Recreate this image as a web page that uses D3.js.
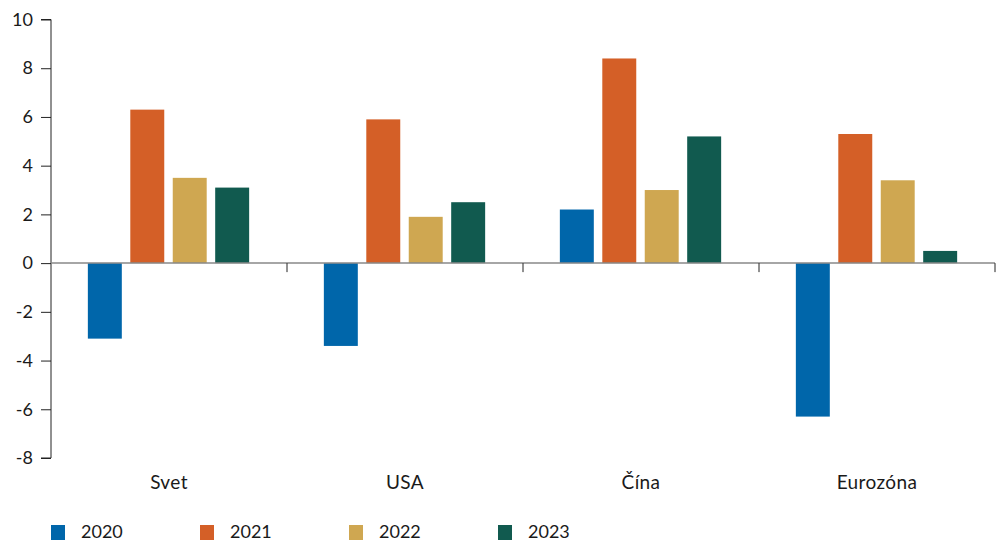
<!DOCTYPE html>
<html><head><meta charset="utf-8">
<script src="https://cdn.jsdelivr.net/npm/d3@7"></script>
<style>body{margin:0;background:#fff;} svg{display:block;font-family:Lato,"Open Sans",sans-serif;}</style>
</head><body>
<svg id="c" width="996" height="542"></svg>
<script>
const categories = ["Svet", "USA", "Čína", "Eurozóna"];
const years = ["2020", "2021", "2022", "2023"];
const v2020 = [-3.1, -3.4, 2.2, -6.3];
const v2021 = [6.3, 5.9, 8.4, 5.3];
const v2022 = [3.5, 1.9, 3.0, 3.4];
const v2023 = [3.1, 2.5, 5.2, 0.5];
const yTicks = [-8, -6, -4, -2, 0, 2, 4, 6, 8, 10];
const colors = ["#0066aa", "#d45f27", "#cfa751", "#115a4f"];

(function () {
const series = [v2020, v2021, v2022, v2023];
const svg = d3.select("#c");
const mLeft = 51, mRight = 995, mTop = 19.5, mBottom = 458;

const y = d3.scaleLinear().domain([-8, 10]).range([mBottom, mTop]);
const x0 = d3.scaleBand().domain(categories).range([mLeft, mRight]).padding(0);
const x1 = d3.scaleBand().domain(years).range([0, x0.bandwidth()]).paddingInner(0.2).paddingOuter(0.88);

// bars
categories.forEach((c, ci) => {
  const g = svg.append("g").attr("transform", `translate(${x0(c) - 0.5},0)`);
  years.forEach((yr, si) => {
    const v = series[si][ci];
    g.append("rect")
      .attr("x", x1(yr))
      .attr("width", x1.bandwidth())
      .attr("y", y(Math.max(0, v)))
      .attr("height", Math.abs(y(v) - y(0)))
      .attr("fill", colors[si]);
  });
});

// y axis
const yAxis = d3.axisLeft(y).tickValues(yTicks).tickSize(10).tickPadding(8).tickFormat(d => d);
const ga = svg.append("g").attr("transform", `translate(${mLeft},0)`).call(yAxis);
ga.select(".domain").attr("stroke", "#222").attr("d", `M-10,${y(10)}H0V${y(-8)}H-10`);
ga.selectAll(".tick line").attr("stroke", "#222");
ga.selectAll(".tick text").attr("font-size", 18).attr("fill", "#1a1a1a").attr("font-family", "Lato, sans-serif");

// zero line
svg.append("line").attr("x1", mLeft).attr("x2", mRight).attr("y1", y(0)).attr("y2", y(0))
  .attr("stroke", "#888").attr("stroke-width", 1.5);

// category ticks
const bounds = categories.slice(1).map(c => x0(c)).concat([mRight]);
svg.selectAll(".ct").data(bounds).enter().append("line")
  .attr("x1", d => d).attr("x2", d => d).attr("y1", y(0)).attr("y2", y(0) + 9)
  .attr("stroke", "#222");

// category labels
svg.selectAll(".cl").data(categories).enter().append("text")
  .attr("x", d => x0(d) + x0.bandwidth() / 2).attr("y", 489)
  .attr("text-anchor", "middle").attr("font-size", 19).attr("letter-spacing", 0.4).attr("fill", "#1a1a1a")
  .text(d => d);

// legend
const lx = d3.scalePoint().domain(years).range([51, 498]);
const lg = svg.selectAll(".lg").data(years).enter().append("g")
  .attr("transform", d => `translate(${lx(d)},525)`);
lg.append("rect").attr("width", 14).attr("height", 15).attr("fill", (d, i) => colors[i]);
lg.append("text").attr("x", 30).attr("y", 13).attr("font-size", 18).attr("fill", "#1a1a1a").text(d => d);
})();
</script>
</body></html>
